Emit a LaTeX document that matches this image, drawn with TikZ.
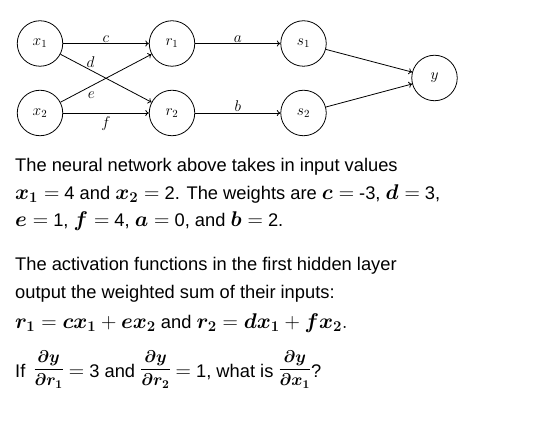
\RequirePackage{fix-cm}
\documentclass[tikz,border=0pt]{standalone}
\usepackage{amsmath}
\usepackage{bm}
\usepackage{fontspec}
\setmainfont{Liberation Sans}
\usetikzlibrary{arrows.meta}
\newcommand{\Mth}[1]{{\fontsize{21.3bp}{23bp}\selectfont$#1$}}
\newcommand{\Fr}[2]{\raisebox{3bp}{\fontsize{17bp}{19bp}\selectfont$\dfrac{#1}{#2}$}}
\begin{document}
\begin{tikzpicture}[x=1bp,y=-1bp,
  neuron/.style={circle,draw,line width=0.8bp,minimum size=45.5bp,inner sep=0pt,
    font=\fontsize{15.5bp}{17bp}\selectfont},
  conn/.style={draw,line width=0.8bp,-{To[length=3.5bp,width=6bp]}},
  wlabel/.style={inner sep=1bp,font=\fontsize{15.5bp}{17bp}\selectfont},
  txt/.style={anchor=base west,inner sep=0pt,font=\fontsize{18.3bp}{22bp}\selectfont}]
\path[use as bounding box] (0,0) rectangle (540,446);
% neurons
\node[neuron] (x1) at (40,43.5) {$x_1$};
\node[neuron] (x2) at (40,113) {$x_2$};
\node[neuron] (r1) at (172,43.5) {$r_1$};
\node[neuron] (r2) at (172,113) {$r_2$};
\node[neuron] (s1) at (303.5,43.5) {$s_1$};
\node[neuron] (s2) at (303.5,113) {$s_2$};
\node[neuron] (y) at (434.5,78) {$y$};
% connectors
\draw[conn] (x1) -- node[wlabel,above] {$c$} (r1);
\draw[conn] (x1) -- node[wlabel,pos=0.33,above=1.5bp] {$d$} (r2);
\draw[conn] (x2) -- node[wlabel,pos=0.34,below=5bp] {$e$} (r1);
\draw[conn] (x2) -- node[wlabel,below=2.5bp] {$f$} (r2);
\draw[conn] (r1) -- node[wlabel,above] {$a$} (s1);
\draw[conn] (r2) -- node[wlabel,above] {$b$} (s2);
\draw[conn] (s1) -- (y);
\draw[conn] (s2) -- (y);
% text
\node[txt] (t1) at (15,171.5) {The neural network above takes in input values};
\node[txt] (t2) at (15,199.5) {\Mth{\bm{x}_{\bm{1}} =}\ 4 and \Mth{\bm{x}_{\bm{2}} =}\ 2. The weights are \Mth{\bm{c} =}\ -3, \Mth{\bm{d} =}\ 3,};
\node[txt] (t3) at (15,227) {\Mth{\bm{e} =}\ 1, \Mth{\bm{f} =}\ 4, \Mth{\bm{a} =}\ 0, and \Mth{\bm{b} =}\ 2.};
\node[txt] (t4) at (15,270) {The activation functions in the first hidden layer};
\node[txt] (t5) at (15,298) {output the weighted sum of their inputs:};
\node[txt] (t6) at (15,328) {\Mth{\bm{r}_{\bm{1}} = \bm{c}\bm{x}_{\bm{1}} + \bm{e}\bm{x}_{\bm{2}}} and \Mth{\bm{r}_{\bm{2}} = \bm{d}\bm{x}_{\bm{1}} + \bm{f}\bm{x}_{\bm{2}}.}};
\node[txt] (t7) at (15,377) {If\hspace{3bp} \Fr{\bm{\partial}\bm{y}}{\bm{\partial}\bm{r}_{\bm{1}}}\hspace{5bp}\Mth{=}\ 3 and \Fr{\bm{\partial}\bm{y}}{\bm{\partial}\bm{r}_{\bm{2}}}\hspace{5bp}\Mth{=}\ 1, what is \Fr{\bm{\partial}\bm{y}}{\bm{\partial}\bm{x}_{\bm{1}}}?};
\end{tikzpicture}
\end{document}
